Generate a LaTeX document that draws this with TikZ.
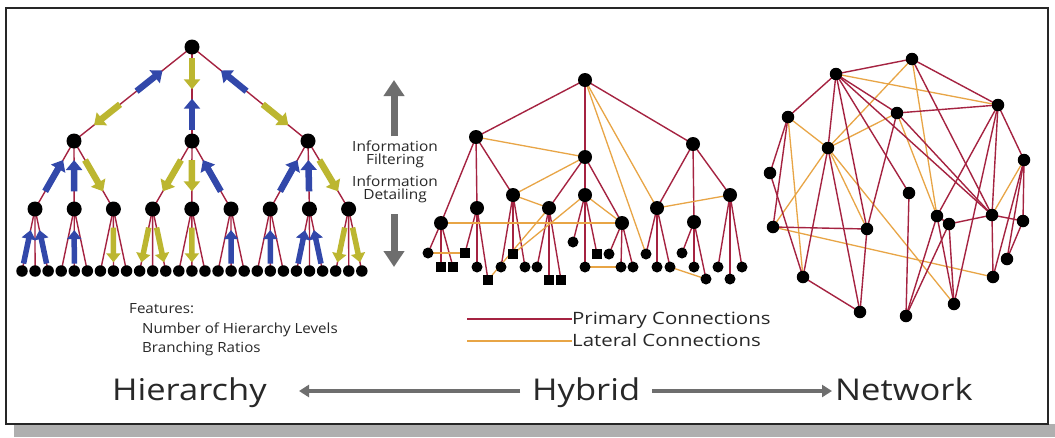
\documentclass[tikz,border=0pt]{standalone}
\usepackage{fontspec}
\setmainfont{Open Sans}
\usetikzlibrary{arrows.meta}
\pgfdeclarelayer{back}
\pgfdeclarelayer{edges}
\pgfdeclarelayer{arrs}
\pgfsetlayers{back,edges,arrs,main}
\definecolor{prim}{RGB}{165,35,65}
\definecolor{lat}{RGB}{232,165,70}
\definecolor{ablue}{RGB}{50,72,170}
\definecolor{ayel}{RGB}{188,182,48}
\definecolor{agray}{RGB}{110,110,110}
\definecolor{shad}{RGB}{175,175,175}
\definecolor{ink}{RGB}{40,40,40}
\newcommand\onedge[5]{%
  \path (#2.center) -- (#3.center) coordinate[pos=#4] (oe-a) coordinate[pos=#5] (oe-b);
  \draw[#1] (oe-a) -- (oe-b);}
\begin{document}
\begin{tikzpicture}[x=1pt,y=-1pt,
  pe/.style={draw=prim, line width=1.4pt},
  le/.style={draw=lat, line width=1.3pt},
  hn/.style={circle, fill=black, inner sep=0pt, minimum size=15pt},
  hl/.style={circle, fill=black, inner sep=0pt, minimum size=11.5pt},
  yn/.style={circle, fill=black, inner sep=0pt, minimum size=14pt},
  yc/.style={circle, fill=black, inner sep=0pt, minimum size=11pt},
  ys/.style={rectangle, fill=black, inner sep=0pt, minimum size=10.5pt},
  nn/.style={circle, fill=black, inner sep=0pt, minimum size=12.5pt},
  bigup/.style={draw=ablue, line width=6.5pt, -{Triangle[width=16pt,length=10pt]}},
  bigdn/.style={draw=ayel, line width=6.5pt, -{Triangle[width=16pt,length=10pt]}},
  smup/.style={draw=ablue, line width=5.5pt, -{Triangle[width=14pt,length=9pt]}},
  smdn/.style={draw=ayel, line width=5.5pt, -{Triangle[width=14pt,length=9pt]}},
  garr/.style={draw=agray, line width=7pt, -{Triangle[width=20pt,length=16pt]}},
  barr/.style={draw=agray, line width=4pt, -{Triangle[width=12pt,length=10pt]}},
  txt/.style={inner sep=0pt, anchor=base, text=ink},
]
\useasboundingbox (0,0) rectangle (1055,437);
\begin{pgfonlayer}{back}
\fill[white] (0,0) rectangle (1055,437);
\fill[shad] (14,424) rectangle (1055,437);
\draw[draw=black!85, line width=1.3pt, fill=white] (6,8) rectangle (1048,424);
\end{pgfonlayer}

% ---------------- Hierarchy ----------------
\node[hn] (r) at (192,47) {};
\foreach \i/\x in {1/74,2/192,3/308} \node[hn] (a\i) at (\x,141) {};
\foreach \i in {1,...,9} \node[hn] (b\i) at ({35+(\i-1)*39.2},209) {};
\foreach \j in {1,...,27} \node[hl] (c\j) at ({22+(\j-1)*13.07},271) {};
\begin{pgfonlayer}{edges}
\foreach \i in {1,2,3} \draw[pe] (r.center) -- (a\i.center);
\foreach \k in {1,2,3} \foreach \m in {0,1,2} {\pgfmathtruncatemacro\bi{3*\k-2+\m}\draw[pe] (a\k.center) -- (b\bi.center);}
\foreach \i in {1,...,9} \foreach \m in {0,1,2} {\pgfmathtruncatemacro\cj{3*\i-2+\m}\draw[pe] (b\i.center) -- (c\cj.center);}
\end{pgfonlayer}
\begin{pgfonlayer}{arrs}
\onedge{bigup}{r}{a1}{0.47}{0.25}
\onedge{bigdn}{r}{a1}{0.61}{0.83}
\onedge{bigdn}{r}{a2}{0.12}{0.45}
\onedge{bigup}{r}{a2}{0.88}{0.55}
\onedge{bigup}{r}{a3}{0.47}{0.25}
\onedge{bigdn}{r}{a3}{0.61}{0.83}
\foreach \p/\c in {a1/b1,a1/b2,a2/b6,a3/b7,a3/b8} {\onedge{bigup}{\p}{\c}{0.74}{0.28}}
\foreach \p/\c in {a1/b3,a2/b4,a2/b5,a3/b9} {\onedge{bigdn}{\p}{\c}{0.28}{0.74}}
\foreach \p/\c in {b1/c1,b1/c3,b2/c5,b6/c17,b7/c20,b8/c22,b8/c24} {\onedge{smup}{\p}{\c}{0.88}{0.34}}
\foreach \p/\c in {b3/c8,b4/c10,b4/c12,b5/c14,b9/c25,b9/c27} {\onedge{smdn}{\p}{\c}{0.3}{0.86}}
\end{pgfonlayer}

% ---------------- Information arrows ----------------
\node[txt, font=\fontsize{14}{14}\selectfont] (if1) at (395,151) {\scalebox{1.1}[1]{Information}};
\node[txt, font=\fontsize{14}{14}\selectfont] (if2) at (395,164) {\scalebox{1.1}[1]{Filtering}};
\node[txt, font=\fontsize{14}{14}\selectfont] (id1) at (395,186) {\scalebox{1.1}[1]{Information}};
\node[txt, font=\fontsize{14}{14}\selectfont] (id2) at (395,199) {\scalebox{1.1}[1]{Detailing}};
\coordinate (upT) at (394,136);
\coordinate (upH) at (394,80);
\coordinate (dnT) at (394,214);
\coordinate (dnH) at (394,267);
\draw[garr] (upT) -- (upH);
\draw[garr] (dnT) -- (dnH);

% ---------------- Hybrid ----------------
\node[yn] (h0) at (585,80) {};
\node[yn] (hA) at (476,137) {};
\node[yn] (hB) at (585,157) {};
\node[yn] (hC) at (693,144) {};
\foreach \n/\x/\y in {1/441/223,2/477/208,3/513/195,4/549/208,5/585/195,6/622/223,7/657/208,8/694/222,9/730/195}
  \node[yn] (g\n) at (\x,\y) {};
\foreach \n/\x/\y in {2/441/267,3/453/267,4/465/253,6/488/280,8/513/254,11/549/280,12/561/280,15/597/254}
  \node[ys] (l\n) at (\x,\y) {};
\foreach \n/\x/\y in {1/428/253,5/477/267,7/501/267,9/525/267,10/537/267,13/573/242,14/585/267,16/609/254,17/621/267,18/633/267,19/646/254,20/657/267,21/670/267,22/682/253,23/694/267,24/706/279,25/718/267,26/730/279,27/742/267}
  \node[yc] (l\n) at (\x,\y) {};
\begin{pgfonlayer}{edges}
\foreach \c in {hA,hB,hC} \draw[pe] (h0.center) -- (\c.center);
\foreach \p/\c in {hA/g1,hA/g2,hA/g3,hB/g4,hB/g5,hB/g6,hC/g7,hC/g8,hC/g9} \draw[pe] (\p.center) -- (\c.center);
\foreach \i in {1,...,9} \foreach \m in {0,1,2} {\pgfmathtruncatemacro\lj{3*\i-2+\m}\draw[pe] (g\i.center) -- (l\lj.center);}
\foreach \p/\c in {hA/hB,h0/l19,h0/g7,hB/g3,g3/g4,g1/g6,g5/g6,g7/g9,l14/l17,l1/l4,l21/l24,g5/l8,g4/l6}
  \draw[le] (\p.center) -- (\c.center);
\end{pgfonlayer}

% ---------------- Network ----------------
\foreach \n/\x/\y in {1/836/74,2/912/59,3/998/105,4/788/117,5/897/113,6/828/148,7/1024/160,8/770/173,9/909/193,10/937/216,11/949/224,12/992/215,13/1023/221,14/773/227,15/867/229,16/1007/259,17/993/277,18/803/277,19/860/312,20/954/304,21/906/316}
  \node[nn] (n\n) at (\x,\y) {};
\begin{pgfonlayer}{edges}
\foreach \a/\b in {1/3,2/6,2/10,4/6,4/18,5/6,5/10,6/14,6/15,6/20,7/12,14/17}
  \draw[le] (n\a.center) -- (n\b.center);
\foreach \a/\b in {1/2,1/4,1/6,1/5,1/9,1/12,1/15,2/3,2/12,3/5,3/7,3/12,3/10,3/20,4/8,4/14,5/15,5/12,6/18,6/19,7/13,7/16,7/17,8/18,14/15,15/19,9/21,10/11,11/12,12/13,10/21,11/21,10/20,11/20,13/16,12/17,18/19}
  \draw[pe] (n\a.center) -- (n\b.center);
\end{pgfonlayer}

% ---------------- Features & legend ----------------
\node[txt, anchor=base west, font=\fontsize{14}{14}\selectfont] (feat) at (129,313) {\scalebox{1.08}[1]{Features:}};
\node[txt, anchor=base west, font=\fontsize{14}{14}\selectfont] (nhl) at (142,333) {\scalebox{1.08}[1]{Number of Hierarchy Levels}};
\node[txt, anchor=base west, font=\fontsize{14}{14}\selectfont] (br) at (142,352) {\scalebox{1.08}[1]{Branching Ratios}};
\node[txt, anchor=base west, font=\fontsize{17}{17}\selectfont] (pc) at (572,324) {\scalebox{1.2}[1]{Primary Connections}};
\node[txt, anchor=base west, font=\fontsize{17}{17}\selectfont] (lc) at (572,346) {\scalebox{1.2}[1]{Lateral Connections}};
\coordinate (pcl) at (467,319);
\coordinate (lcl) at (467,341);
\draw[pe] (pcl) -- (pc.west |- pcl);
\draw[le] (lcl) -- (lc.west |- lcl);

% ---------------- Bottom axis ----------------
\node[txt, anchor=base west, font=\fontsize{30}{30}\selectfont] (hier) at (112,400) {\scalebox{1.15}[1]{Hierarchy}};
\node[txt, anchor=base west, font=\fontsize{30}{30}\selectfont] (hyb) at (532,400) {\scalebox{1.15}[1]{Hybrid}};
\node[txt, anchor=base west, font=\fontsize{30}{30}\selectfont] (net) at (835,400) {\scalebox{1.15}[1]{Network}};
\coordinate (axL) at (299,391);
\coordinate (axR) at (832,391);
\draw[barr] (hyb.west |- axL) ++(-12,0) -- (axL);
\draw[barr] (hyb.east |- axR) ++(12,0) -- (axR);
\end{tikzpicture}
\end{document}
